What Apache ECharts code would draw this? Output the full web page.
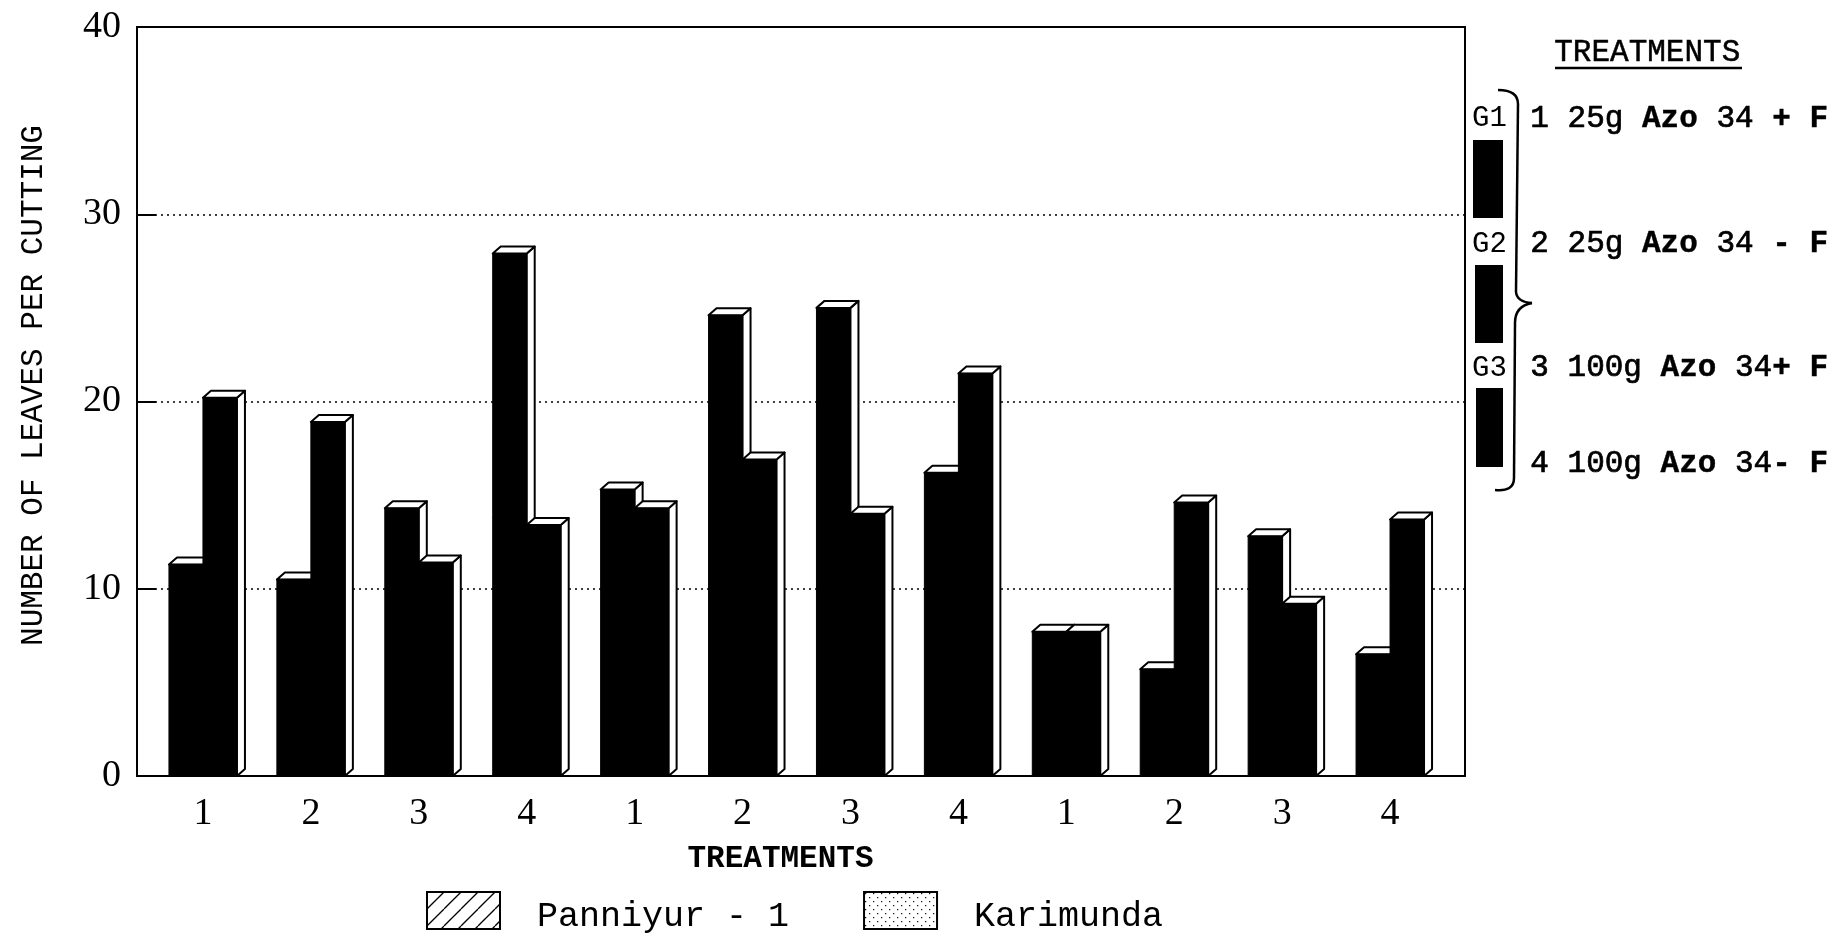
<!DOCTYPE html>
<html>
<head>
<meta charset="utf-8">
<style>html,body{margin:0;padding:0;background:#fff}#chart{width:1838px;height:939px}</style>
<script src="https://cdn.jsdelivr.net/npm/echarts@6/dist/echarts.min.js"></script>
</head>
<body>
<div id="chart"></div>
<script>
// Leaves per cutting for two pepper varieties under four treatments, three groups
const treatmentLabels = ['1','2','3','4','1','2','3','4','1','2','3','4'];
const panniyurValues = [11.3,10.5,14.3,27.9,15.3,24.6,25.0,16.2,7.7,5.7,12.8,6.5];
const karimundaValues = [20.2,18.9,11.4,13.4,14.3,16.9,14.0,21.5,7.7,14.6,9.2,13.7];
const yTicks = {min:0,max:40,interval:10};
const FONT = '"Liberation Mono"';
const TICK_FONT = '"Liberation Serif"';

function patternCanvas(size, draw){
  const c = document.createElement('canvas');
  c.width = c.height = size;
  const g = c.getContext('2d');
  g.fillStyle = '#fff'; g.fillRect(0,0,size,size);
  g.fillStyle = g.strokeStyle = '#000';
  draw(g,size);
  return c;
}
const hatch = patternCanvas(17,(g,s)=>{
  g.lineWidth = 1.3;
  for(const o of [-s,0,s]){ g.beginPath(); g.moveTo(o,s); g.lineTo(o+s,0); g.stroke(); }
});
const dots = patternCanvas(8,(g)=>{ g.fillRect(1,1,1.2,1.2); g.fillRect(5,5,1.2,1.2); });

// Front face in black, with a white top and side giving the raised look
function barRenderer(side){
  return function(params, api){
    const i = api.value(0), v = api.value(1);
    const top = api.coord([i,v]), base = api.coord([i,0]);
    const w = api.size([1,0])[0] * 0.315, dx = 8, dy = 7;
    const x0 = side < 0 ? top[0]-w : top[0], x1 = x0+w;
    const edge = {stroke:'#000',lineWidth:2,fill:'#fff',lineJoin:'round'};
    return {type:'group',children:[
      {type:'polygon',shape:{points:[[x1,top[1]],[x1+dx,top[1]-dy],[x1+dx,base[1]-dy],[x1,base[1]]]},style:edge},
      {type:'polygon',shape:{points:[[x0,top[1]],[x0+dx,top[1]-dy],[x1+dx,top[1]-dy],[x1,top[1]]]},style:edge},
      {type:'rect',shape:{x:x0,y:top[1],width:w,height:base[1]-top[1]},style:{fill:'#000',stroke:'#000',lineWidth:1}}
    ]};
  };
}

function keyRow(y, num, dose, tail){
  return {type:'text',left:1530,top:y-15,z:5,style:{
    text:`{r|${num} ${dose} }{b|Azo}{r| 34}{b|${tail}}`,
    rich:{
      r:{font:`31px ${FONT}`,fill:'#000',stroke:'#000',lineWidth:0.7},
      b:{font:`bold 31px ${FONT}`,fill:'#000',stroke:'#000',lineWidth:0.4}
    }
  }};
}
function groupKey(label, y, x0, y0, y1){
  return [
    {type:'text',left:1472,top:y-13,z:5,style:{text:label,font:`29px ${FONT}`,fill:'#000'}},
    {type:'rect',z:5,shape:{x:x0,y:y0,width:1503-x0,height:y1-y0},style:{fill:'#000'}}
  ];
}
const braceStyle = {fill:'none',stroke:'#000',lineWidth:2.5};
function braceCurve(x1,y1,cx,cy,x2,y2){
  return {type:'bezierCurve',z:5,shape:{x1,y1,x2,y2,cpx1:cx,cpy1:cy},style:braceStyle};
}
function braceLine(x1,y1,x2,y2){
  return {type:'line',z:5,shape:{x1,y1,x2,y2},style:braceStyle};
}

const chart = echarts.init(document.getElementById('chart'));
chart.setOption({
  animation:false,
  backgroundColor:'#fff',
  grid:[
    {left:137,top:27,width:1328,height:749,show:true,borderColor:'#000',borderWidth:2,backgroundColor:'#fff',outerBoundsMode:'none'},
    {left:149,top:27,width:1295,height:749,outerBoundsMode:'none'}
  ],
  xAxis:[
    {gridIndex:0,type:'category',data:[],show:false},
    {gridIndex:1,type:'category',data:treatmentLabels,
     axisLine:{show:false},axisTick:{show:false},splitLine:{show:false},
     axisLabel:{margin:19,fontFamily:TICK_FONT,fontSize:38,color:'#000',interval:0},
     name:'TREATMENTS',nameLocation:'middle',nameGap:68,
     nameTextStyle:{fontFamily:FONT,fontSize:31,fontWeight:'bold',color:'#000',padding:[0,32,0,0]}}
  ],
  yAxis:[
    {gridIndex:0,type:'value',min:yTicks.min,max:yTicks.max,interval:yTicks.interval,
     axisLine:{show:false},
     axisTick:{show:true,inside:true,length:19,lineStyle:{color:'#000',width:2}},
     splitLine:{show:true,lineStyle:{color:'#000',type:[2,4],width:1.5}},
     axisLabel:{margin:16,fontFamily:TICK_FONT,fontSize:38,color:'#000'},
     name:'NUMBER OF LEAVES PER CUTTING',nameLocation:'middle',nameGap:88,nameRotate:90,
     nameTextStyle:{fontFamily:FONT,fontSize:31,color:'#000',padding:[0,0,0,32]}},
    {gridIndex:1,type:'value',min:yTicks.min,max:yTicks.max,interval:yTicks.interval,show:false,splitLine:{show:false}}
  ],
  legend:{
    left:421,top:886,icon:'rect',itemWidth:73,itemHeight:37,itemGap:74,selectedMode:false,
    formatter:'{a|{name}}',
    textStyle:{
      padding:[0,0,0,32],
      rich:{a:{fontFamily:FONT,fontSize:35,color:'#000',lineHeight:47,verticalAlign:'bottom'}}
    },
    data:[
      {name:'Panniyur - 1',itemStyle:{color:{image:hatch,repeat:'repeat'},borderColor:'#000',borderWidth:2}},
      {name:'Karimunda',itemStyle:{color:{image:dots,repeat:'repeat'},borderColor:'#000',borderWidth:2}}
    ]
  },
  series:[
    {name:'Panniyur - 1',type:'custom',xAxisIndex:1,yAxisIndex:1,clip:false,
     renderItem:barRenderer(-1),data:panniyurValues.map((v,i)=>[i,v])},
    {name:'Karimunda',type:'custom',xAxisIndex:1,yAxisIndex:1,clip:false,
     renderItem:barRenderer(1),data:karimundaValues.map((v,i)=>[i,v])}
  ],
  graphic:[
    {type:'text',left:1554,top:37,z:5,style:{text:'TREATMENTS',font:`31px ${FONT}`,fill:'#000',stroke:'#000',lineWidth:0.5}},
    {type:'line',z:5,shape:{x1:1555,y1:68,x2:1742,y2:68},style:{stroke:'#000',lineWidth:2.5}},
    ...groupKey('G1',117,1473,140,218),
    ...groupKey('G2',243,1475,265,343),
    ...groupKey('G3',367,1476,388,467),
    keyRow(118,'1','25g',' + F'),
    keyRow(243,'2','25g',' - F'),
    keyRow(367,'3','100g','+ F'),
    keyRow(463,'4','100g','- F'),
    braceCurve(1498,90,1518,90,1518,104),
    braceLine(1518,104,1516,292),
    braceCurve(1516,292,1517,302,1532,303),
    braceCurve(1532,303,1515,306,1515,323),
    braceLine(1515,323,1514,478),
    braceCurve(1514,478,1514,492,1495,490)
  ]
});
</script>
</body>
</html>
